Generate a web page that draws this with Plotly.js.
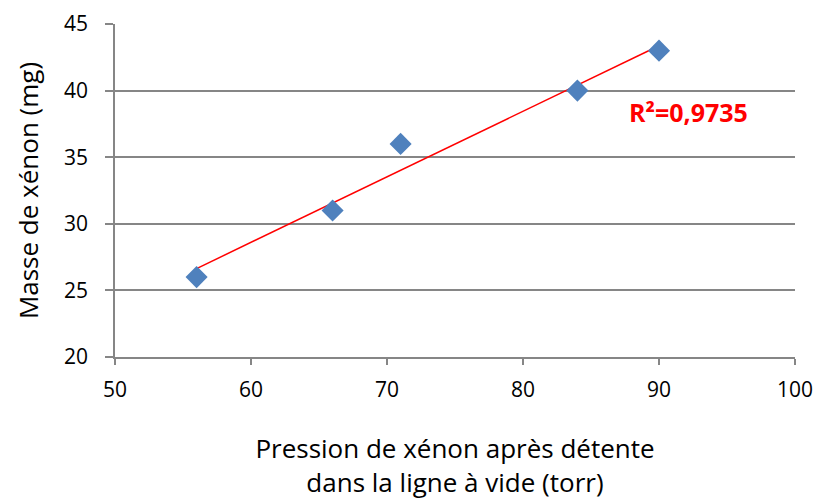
<!DOCTYPE html>
<html>
<head>
<meta charset="utf-8">
<script src="https://cdn.plot.ly/plotly-3.0.1.min.js"></script>
<style>html,body{margin:0;padding:0;background:#fff;}#chart{width:819px;height:500px;}</style>
</head>
<body>
<div id="chart"></div>
<script>
const pression = [56, 66, 71, 84, 90];
const masse = [26, 31, 36, 40, 43];
const r2Label = "R²=0,9735";

// least-squares trend line from the data
const n = pression.length;
const mx = pression.reduce((a,b)=>a+b,0)/n;
const my = masse.reduce((a,b)=>a+b,0)/n;
let sxy=0, sxx=0;
for (let i=0;i<n;i++){ sxy+=(pression[i]-mx)*(masse[i]-my); sxx+=(pression[i]-mx)**2; }
const slope = sxy/sxx, icpt = my - slope*mx;
const tx = [Math.min(...pression), Math.max(...pression)];
const ty = tx.map(x => icpt + slope*x);

const FONT = "Open Sans, Lato, sans-serif";
const data = [
  {x: tx, y: ty, mode: 'lines', line: {color: '#FF0000', width: 1.5}, hoverinfo: 'skip'},
  {x: pression, y: masse, mode: 'markers', marker: {symbol: 'diamond', size: 17, color: '#4F81BD'}}
];
const layout = {
  width: 819, height: 500,
  margin: {l: 115, r: 24, t: 24, b: 143},
  showlegend: false,
  paper_bgcolor: '#fff', plot_bgcolor: '#fff',
  font: {family: FONT, color: '#000'},
  xaxis: {
    range: [50, 100], tickvals: [50,60,70,80,90,100], showgrid: false, zeroline: false,
    showline: true, linecolor: '#868686', linewidth: 1.5,
    ticks: 'outside', ticklen: 6, tickcolor: '#868686', tickwidth: 1.5,
    ticklabelstandoff: 7,
    tickfont: {size: 21, family: FONT},
    title: {text: 'Pression de xénon après détente<br>dans la ligne à vide (torr)', font: {size: 26, family: FONT}, standoff: 39}
  },
  yaxis: {
    range: [20, 45], tickvals: [20,25,30,35,40,45], showgrid: true, gridcolor: '#868686', gridwidth: 1.5, zeroline: false,
    showline: true, linecolor: '#868686', linewidth: 1.5,
    ticks: 'outside', ticklen: 8, tickcolor: '#868686', tickwidth: 1.5,
    ticklabelstandoff: 13,
    tickfont: {size: 21, family: FONT},
    title: {text: 'Masse de xénon (mg)', font: {size: 26, family: FONT}, standoff: 18}
  },
  annotations: [{x: 92.2, y: 38.4, xref: 'x', yref: 'y', text: '<b>' + r2Label + '</b>', showarrow: false,
    font: {size: 25, color: '#FF0000', family: FONT}}]
};
Plotly.newPlot('chart', data, layout, {displayModeBar: false});
</script>
</body>
</html>
